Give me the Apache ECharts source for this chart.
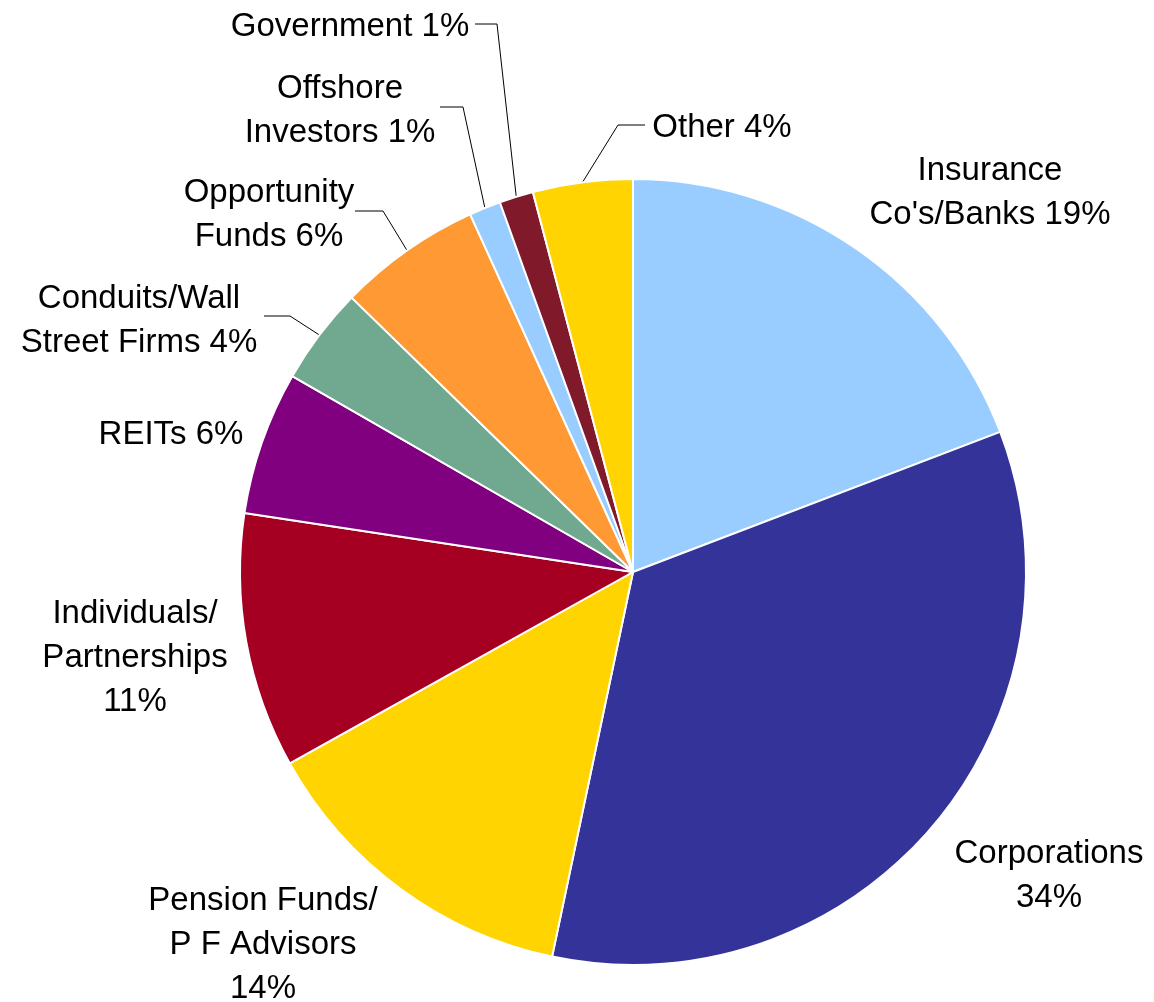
<!DOCTYPE html>
<html><head><meta charset="utf-8">
<script src="https://cdn.jsdelivr.net/npm/echarts@6/dist/echarts.min.js"></script>
<style>html,body{margin:0;padding:0;background:#fff}#c{width:1154px;height:1002px}</style>
</head><body><div id="c"></div>
<script>
// ---- data ----
const categories = ["Insurance\nCo's/Banks", "Corporations", "Pension Funds/\nP F Advisors", "Individuals/\nPartnerships", "REITs", "Conduits/Wall\nStreet Firms", "Opportunity\nFunds", "Offshore\nInvestors", "Government", "Other"];
const values = [19.2, 34.1, 13.6, 10.5, 5.9, 4.0, 5.9, 1.3, 1.4, 4.1];
const percentOnNewLine = [false, true, true, true, false, false, false, false, false, false];

// ---- styles / layout ----
const colors = ['#99CCFF', '#333399', '#FFD400', '#A50021', '#800080', '#70A990', '#FF9933', '#99CCFF', '#801A2B', '#FFD400'];
const CX = 633, CY = 572, R = 393;
const labelPos = [[990,193],[1049,876],[263,945],[135,658],[171,435],[139,321],[269,215],[340,111],[350,27],[722,128]];
const lineLabelEnd = [null,null,null,null,null,[264,316],[355,211],[440,107],[475,24],[645,125]];
const lineElbow = [null,null,null,null,null,[290,316],[383,211],[463,107],[497,24],[618,125]];

const total = values.reduce((a,b)=>a+b,0);
function edgePoint(i){
  let before = 0; for (let k=0;k<i;k++) before += values[k];
  const mid = (before + values[i]/2) / total * 2 * Math.PI;
  return [CX + R*Math.sin(mid), CY - R*Math.cos(mid)];
}

const chart = echarts.init(document.getElementById('c'), null, {renderer:'canvas'});
chart.setOption({
  backgroundColor: '#fff',
  animation: false,
  series: [{
    type: 'pie',
    center: [CX, CY],
    radius: R,
    startAngle: 90,
    clockwise: true,
    avoidLabelOverlap: false,
    silent: true,
    itemStyle: {borderColor: '#fff', borderWidth: 2},
    label: {
      show: true,
      position: 'outside',
      color: '#000',
      fontFamily: "'Liberation Sans', Arial, sans-serif",
      fontSize: 33,
      lineHeight: 44,
      align: 'center',
      formatter: function(p){
        return p.name + (percentOnNewLine[p.dataIndex] ? '\n' : ' ') + Math.round(p.value) + '%';
      }
    },
    labelLine: {show: false, lineStyle: {color: '#000', width: 1}},
    labelLayout: function(p){
      const i = p.dataIndex;
      const res = {x: labelPos[i][0], y: labelPos[i][1], align: 'center', verticalAlign: 'middle', hideOverlap: false};
      if (lineLabelEnd[i]) res.labelLinePoints = [edgePoint(i), lineElbow[i], lineLabelEnd[i]];
      return res;
    },
    data: categories.map((c,i)=>({
      name: c, value: values[i],
      itemStyle: {color: colors[i]},
      labelLine: {show: !!lineLabelEnd[i], smooth: false, lineStyle: {color:'#000', width:1}}
    }))
  }]
});
</script></body></html>
